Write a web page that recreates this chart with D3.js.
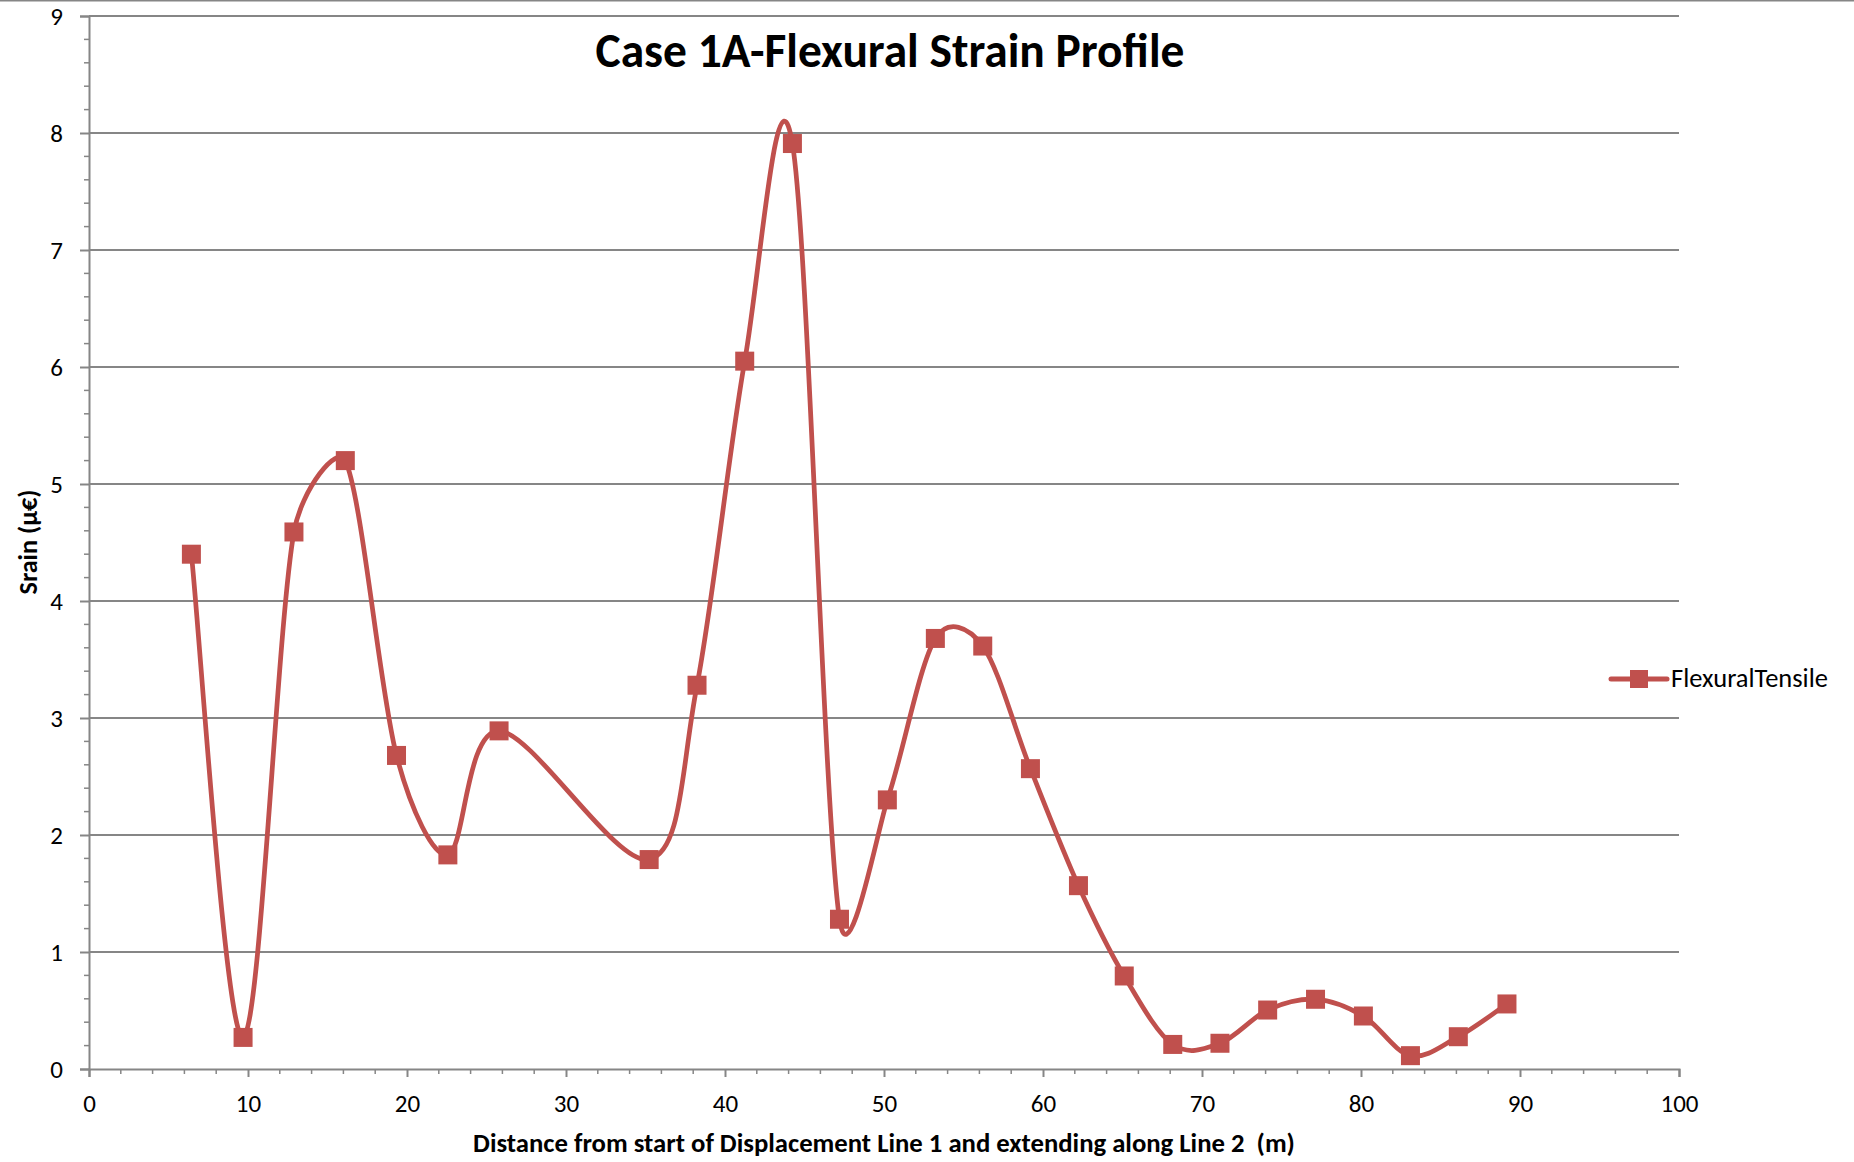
<!DOCTYPE html>
<html>
<head>
<meta charset="utf-8">
<script src="https://cdn.jsdelivr.net/npm/d3@7"></script>
<style>
  body { margin: 0; background: #fff; }
  text { font-family: Carlito, Calibri, Lato, sans-serif; fill: #000; }
</style>
</head>
<body>
<div id="chart"></div>
<script>
// distance along the line (m) and flexural tensile strain (µε)
var distance = [6.44, 9.69, 12.89, 16.12, 19.34, 22.57, 25.79, 35.23, 38.24, 41.24,
  44.24, 47.2, 50.21, 53.23, 56.21, 59.21, 62.23, 65.11, 68.16, 71.13,
  74.13, 77.14, 80.15, 83.11, 86.12, 89.18];
var strain = [4.40, 0.27, 4.59, 5.20, 2.68, 1.83, 2.89, 1.79, 3.28, 6.05,
  7.91, 1.28, 2.30, 3.68, 3.615, 2.567, 1.567, 0.795, 0.21, 0.22,
  0.504, 0.596, 0.453, 0.114, 0.276, 0.556];

var xTicks = [0, 10, 20, 30, 40, 50, 60, 70, 80, 90, 100];
var yTicks = [0, 1, 2, 3, 4, 5, 6, 7, 8, 9];

var seriesName = "FlexuralTensile";
var chartTitle = "Case 1A-Flexural Strain Profile";
var xTitle = "Distance from start of Displacement Line 1 and extending along Line 2  (m)";
var yTitle = "Srain (\u00b5\u20ac)";

var width = 1854, height = 1162;
var margin = { top: 16, right: 175, bottom: 93, left: 89 };
var innerW = width - margin.left - margin.right,
  innerH = height - margin.top - margin.bottom;

var red = "#C0504D";
var axisGrey = "#868686";

var svg = d3.select("#chart")
  .append("svg")
  .attr("width", width)
  .attr("height", height);

// thin frame line along the top of the picture
svg.append("line")
  .attr("x1", 0).attr("x2", width)
  .attr("y1", 0.75).attr("y2", 0.75)
  .style("stroke", axisGrey)
  .style("stroke-width", 1.5);

var g = svg.append("g")
  .attr("transform", "translate(" + margin.left + "," + margin.top + ")");

var x = d3.scaleLinear().domain([0, 100]).range([0, innerW]);
var y = d3.scaleLinear().domain([0, 9]).range([innerH, 0]);

// gridlines
g.selectAll(".grid")
  .data(yTicks.filter(function (d) { return d > 0; }))
  .enter()
  .append("line")
  .attr("class", "grid")
  .attr("x1", 0).attr("x2", innerW)
  .attr("y1", function (d) { return y(d); })
  .attr("y2", function (d) { return y(d); })
  .style("stroke", axisGrey)
  .style("stroke-width", 2);

// minor ticks
var xMinor = d3.range(0, 101, 2).filter(function (d) { return d % 10 != 0; });
var yMinor = d3.range(0, 9.01, 0.2).filter(function (d) { return Math.abs(d - Math.round(d)) > 1e-6; });

g.selectAll(".xminor")
  .data(xMinor)
  .enter()
  .append("line")
  .attr("x1", function (d) { return x(d); })
  .attr("x2", function (d) { return x(d); })
  .attr("y1", innerH).attr("y2", innerH + 5)
  .style("stroke", axisGrey)
  .style("stroke-width", 1.5);

g.selectAll(".yminor")
  .data(yMinor)
  .enter()
  .append("line")
  .attr("x1", -5).attr("x2", 0)
  .attr("y1", function (d) { return y(d); })
  .attr("y2", function (d) { return y(d); })
  .style("stroke", axisGrey)
  .style("stroke-width", 1.5);

// axes
var xAxis = g.append("g")
  .attr("transform", "translate(0," + innerH + ")")
  .call(d3.axisBottom(x).tickValues(xTicks).tickSize(8).tickPadding(17));

var yAxis = g.append("g")
  .call(d3.axisLeft(y).tickValues(yTicks).tickSize(9).tickPadding(17));

[xAxis, yAxis].forEach(function (a) {
  a.select(".domain").style("stroke", axisGrey).style("stroke-width", 2);
  a.selectAll(".tick line").style("stroke", axisGrey).style("stroke-width", 2);
  a.selectAll(".tick text")
    .style("font-family", "Carlito, Calibri, Lato, sans-serif")
    .style("font-size", "25px")
    .style("fill", "#000");
});

// Excel-style smoothed line: bezier arms of 1/6 the chord, clipped to half the segment
function smoothPath(pts) {
  var p = d3.path();
  function dist(a, b) { return Math.hypot(b[0] - a[0], b[1] - a[1]); }
  p.moveTo(pts[0][0], pts[0][1]);
  for (var i = 0; i < pts.length - 1; i++) {
    var p0 = pts[Math.max(i - 1, 0)], p1 = pts[i], p2 = pts[i + 1],
      p3 = pts[Math.min(i + 2, pts.length - 1)];
    var d02 = dist(p0, p2), d12 = dist(p1, p2), d13 = dist(p1, p3);
    var h = d12 / 2, a = d02 / 6, b = d13 / 6;
    var f1 = 1 / 6, f2 = 1 / 6;
    if (a >= h && b >= h) {
      f1 = h / d02; f2 = h / d13;
    } else if (a >= h) {
      f1 = h / d02; f2 = (1 / 6) * (h / a);
    } else if (b >= h) {
      f2 = h / d13; f1 = (1 / 6) * (h / b);
    }
    p.bezierCurveTo(
      p1[0] + (p2[0] - p0[0]) * f1, p1[1] + (p2[1] - p0[1]) * f1,
      p2[0] - (p3[0] - p1[0]) * f2, p2[1] - (p3[1] - p1[1]) * f2,
      p2[0], p2[1]);
  }
  return p.toString();
}

var points = distance.map(function (d, i) { return [d, strain[i]]; });
var pixelPts = points.map(function (d) { return [x(d[0]), y(d[1])]; });

g.append("path")
  .attr("d", smoothPath(pixelPts))
  .style("fill", "none")
  .style("stroke", red)
  .style("stroke-width", 4.75)
  .style("stroke-linejoin", "round")
  .style("stroke-linecap", "round");

var ms = 19;
g.selectAll(".marker")
  .data(points)
  .enter()
  .append("rect")
  .attr("x", function (d) { return x(d[0]) - ms / 2; })
  .attr("y", function (d) { return y(d[1]) - ms / 2; })
  .attr("width", ms)
  .attr("height", ms)
  .style("fill", red);

// scale a text's font so it spans the wanted width
function fitWidth(t, w) {
  var cur = t.node().getComputedTextLength();
  var fs = parseFloat(t.attr("font-size"));
  t.attr("font-size", (fs * w / cur).toFixed(2));
}

var title = svg.append("text")
  .attr("x", 890)
  .attr("y", 67)
  .attr("text-anchor", "middle")
  .attr("font-size", 40)
  .attr("font-weight", "bold")
  .text(chartTitle);
fitWidth(title, 589);

var xt = svg.append("text")
  .attr("x", 884)
  .attr("y", 1152)
  .attr("text-anchor", "middle")
  .attr("font-size", 26)
  .attr("font-weight", "bold")
  .style("white-space", "pre")
  .text(xTitle);
fitWidth(xt, 822);

var yt = svg.append("text")
  .attr("transform", "translate(37,542) rotate(-90)")
  .attr("text-anchor", "middle")
  .attr("font-size", 26)
  .attr("font-weight", "bold")
  .text(yTitle);
fitWidth(yt, 105);

// legend
var lg = svg.append("g").attr("transform", "translate(1611,679)");
lg.append("line")
  .attr("x1", 0).attr("x2", 56)
  .attr("y1", 0).attr("y2", 0)
  .style("stroke", red)
  .style("stroke-width", 5)
  .style("stroke-linecap", "round");
lg.append("rect")
  .attr("x", 28 - 9).attr("y", -9)
  .attr("width", 18).attr("height", 18)
  .style("fill", red);
var lt = lg.append("text")
  .attr("x", 60)
  .attr("y", 8)
  .attr("font-size", 22)
  .text(seriesName);
fitWidth(lt, 157);
</script>
</body>
</html>
